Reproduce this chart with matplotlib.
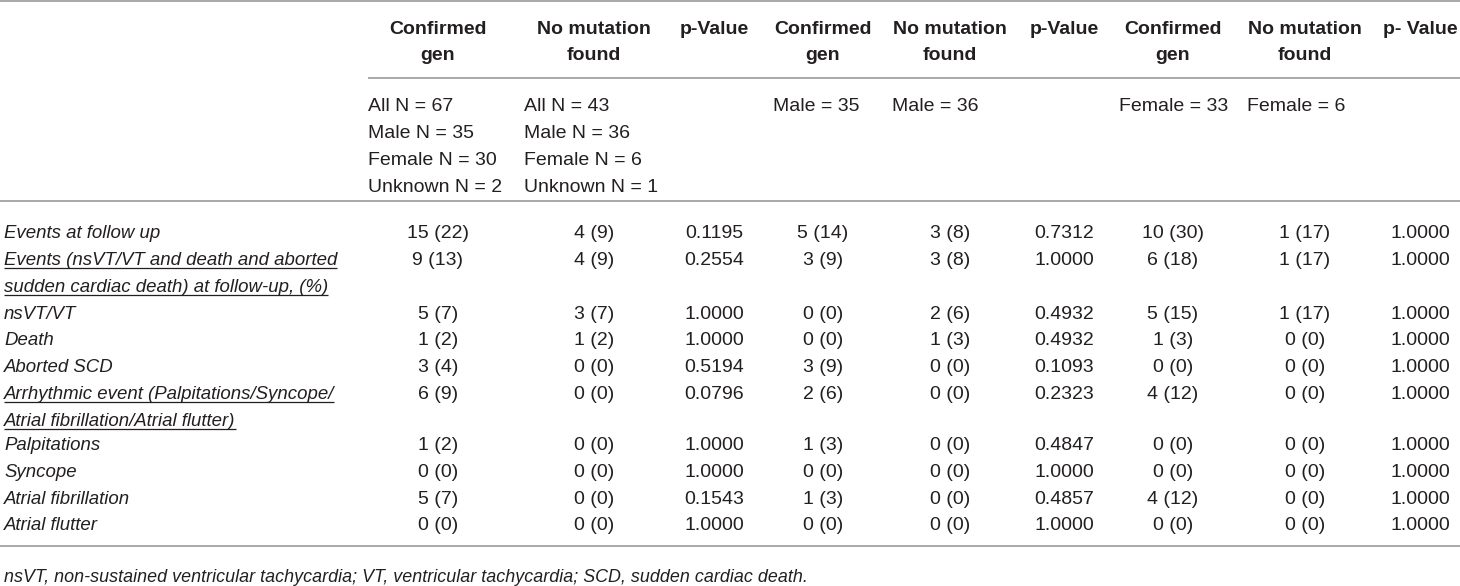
import matplotlib
matplotlib.use("Agg")
import matplotlib.pyplot as plt

# ─── Datos ────────────────────────────────────────────────────────────────────
header_cols = ["Confirmed\ngen", "No mutation\nfound", "p-Value",
               "Confirmed\ngen", "No mutation\nfound", "p-Value",
               "Confirmed\ngen", "No mutation\nfound", "p- Value"]

n_conf_all = ["All N = 67", "Male N = 35", "Female N = 30", "Unknown N = 2"]
n_nomut_all = ["All N = 43", "Male N = 36", "Female N = 6", "Unknown N = 1"]
n_conf_male = ["Male = 35"]
n_nomut_male = ["Male = 36"]
n_conf_female = ["Female = 33"]
n_nomut_female = ["Female = 6"]

row_labels = [
    ["Events at follow up"],
    ["Events (nsVT/VT and death and aborted", "sudden cardiac death) at follow-up, (%)"],
    ["nsVT/VT"],
    ["Death"],
    ["Aborted SCD"],
    ["Arrhythmic event (Palpitations/Syncope/", "Atrial fibrillation/Atrial flutter)"],
    ["Palpitations"],
    ["Syncope"],
    ["Atrial fibrillation"],
    ["Atrial flutter"],
]
underlined = [False, True, False, False, False, True, False, False, False, False]

conf_all = ["15 (22)", "9 (13)", "5 (7)", "1 (2)", "3 (4)", "6 (9)", "1 (2)", "0 (0)", "5 (7)", "0 (0)"]
nomut_all = ["4 (9)", "4 (9)", "3 (7)", "1 (2)", "0 (0)", "0 (0)", "0 (0)", "0 (0)", "0 (0)", "0 (0)"]
p_all = ["0.1195", "0.2554", "1.0000", "1.0000", "0.5194", "0.0796", "1.0000", "1.0000", "0.1543", "1.0000"]
conf_male = ["5 (14)", "3 (9)", "0 (0)", "0 (0)", "3 (9)", "2 (6)", "1 (3)", "0 (0)", "1 (3)", "0 (0)"]
nomut_male = ["3 (8)", "3 (8)", "2 (6)", "1 (3)", "0 (0)", "0 (0)", "0 (0)", "0 (0)", "0 (0)", "0 (0)"]
p_male = ["0.7312", "1.0000", "0.4932", "0.4932", "0.1093", "0.2323", "0.4847", "1.0000", "0.4857", "1.0000"]
conf_female = ["10 (30)", "6 (18)", "5 (15)", "1 (3)", "0 (0)", "4 (12)", "0 (0)", "0 (0)", "4 (12)", "0 (0)"]
nomut_female = ["1 (17)", "1 (17)", "1 (17)", "0 (0)", "0 (0)", "0 (0)", "0 (0)", "0 (0)", "0 (0)", "0 (0)"]
p_female = ["1.0000", "1.0000", "1.0000", "1.0000", "1.0000", "1.0000", "1.0000", "1.0000", "1.0000", "1.0000"]

footnote = ("nsVT, non-sustained ventricular tachycardia; VT, ventricular tachycardia; "
            "SCD, sudden cardiac death.")

# ─── Layout (pixeles) ─────────────────────────────────────────────────────────
W, H = 1460, 586
col_x = [438, 594, 714, 823, 950, 1064, 1173, 1305, 1420]
n_left = [368, 524, 773, 892, 1119, 1247]
row_y = [231, 258, 312, 338, 365, 392, 443, 470, 497, 523]
LINE_STEP = 26.7
TXT = "#231f20"
RULE = "#a8a8a8"
FS = 14
FS_LABEL = 13.4
FS_NOTE = 12.9
BASE = 7  # centro visual -> baseline

plt.rcParams["font.family"] = ["Liberation Sans", "DejaVu Sans"]

fig = plt.figure(figsize=(W / 100, H / 100), dpi=100)
ax = fig.add_axes([0, 0, 1, 1])
ax.set_xlim(0, W)
ax.set_ylim(H, 0)
ax.axis("off")

# reglas horizontales
ax.hlines(1, 0, W, color=RULE, lw=1.4)
ax.hlines(78, 368, W, color=RULE, lw=1.4)
ax.hlines(201, 0, W, color=RULE, lw=1.4)
ax.hlines(546, 0, W, color=RULE, lw=1.4)

# cabecera
for x, h in zip(col_x, header_cols):
    for k, part in enumerate(h.split("\n")):
        ax.text(x, 27 + k * 26.5 + BASE, part, ha="center", va="baseline",
                fontsize=FS, fontweight="bold", color=TXT)

# N por grupo (alineado a la izquierda)
n_groups = [n_conf_all, n_nomut_all, n_conf_male, n_nomut_male, n_conf_female, n_nomut_female]
for x, items in zip(n_left, n_groups):
    for k, s in enumerate(items):
        ax.text(x, 104 + k * 27 + BASE, s, ha="left", va="baseline",
                fontsize=FS, color=TXT)

# etiquetas de fila
label_texts = []
for y, lines, ul in zip(row_y, row_labels, underlined):
    for k, s in enumerate(lines):
        t = ax.text(4, y + k * LINE_STEP + BASE, s, ha="left", va="baseline",
                    fontsize=FS_LABEL, fontstyle="italic", color=TXT)
        if ul:
            label_texts.append((t, y + k * LINE_STEP + BASE))

# valores
columns = [conf_all, nomut_all, p_all, conf_male, nomut_male, p_male,
           conf_female, nomut_female, p_female]
for x, vals in zip(col_x, columns):
    for y, v in zip(row_y, vals):
        ax.text(x, y + BASE, v, ha="center", va="baseline", fontsize=FS, color=TXT)

# subrayado
fig.canvas.draw()
r = fig.canvas.get_renderer()
inv = ax.transData.inverted()
for t, yb in label_texts:
    bb = t.get_window_extent(renderer=r)
    x0, _ = inv.transform((bb.x0, bb.y0))
    x1, _ = inv.transform((bb.x1, bb.y0))
    ax.hlines(yb + 3, x0, x1, color=TXT, lw=0.9)

ax.text(4, 575 + BASE, footnote, ha="left", va="baseline",
        fontsize=FS_NOTE, fontstyle="italic", color=TXT)

fig.savefig("out.png", dpi=100, facecolor="white")
